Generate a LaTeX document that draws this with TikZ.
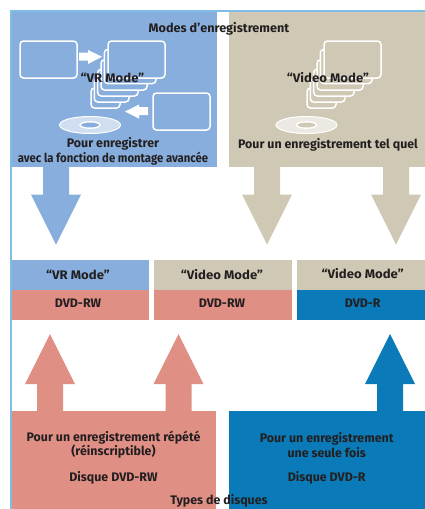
\documentclass[tikz,border=0pt]{standalone}
\usepackage{graphicx}
\usepackage{fontspec}
\setmainfont{Fira Sans}
\definecolor{modeblue}{HTML}{87AEDC}
\definecolor{edgeblue}{HTML}{7FBDE6}
\definecolor{khaki}{HTML}{CEC8B4}
\definecolor{pinkred}{HTML}{E08F85}
\definecolor{deepblue}{HTML}{0A7AB8}
\definecolor{inkdark}{HTML}{231F20}
\tikzset{
  lab/.style={text=inkdark,font=\fontsize{12.4}{14.2}\selectfont\bfseries,inner sep=0pt,align=center,anchor=center},
  frame/.style={draw=white,line width=1.5pt,rounded corners=3.5pt},
}
\newcommand{\modetext}[1]{\scalebox{1.06}[1]{#1}}
% #1 colour, #2 tip x
\newcommand{\downarrowshape}[2]{\fill[#1] (#2-13,167) -- (#2+13,167) -- (#2+13,194.5) -- (#2+25,194.5) -- (#2,244.5) -- (#2-25,194.5) -- (#2-13,194.5) -- cycle;}
\newcommand{\uparrowshape}[2]{\fill[#1] (#2-13,412) -- (#2+13,412) -- (#2+13,384) -- (#2+25,384) -- (#2,334) -- (#2-25,384) -- (#2-13,384) -- cycle;}
% #1 x offset, #2 fill
\newcommand{\stackshape}[2]{
  \foreach \l/\r/\t/\b in {91/120/88/108, 94.3/129/78.6/102, 97.7/138/69.2/96, 101/147/59.8/90, 104.3/156/49.4/83.5, 108/165/41/78}{
    \draw[frame,fill=#2] (#1+\l,\t) rectangle (#1+\r,\b);
  }
}
\newcommand{\discshape}[2]{
  \draw[draw=white,line width=1pt,fill=#2!40!white] (#1,125) ellipse [x radius=30.5,y radius=8.5];
  \draw[draw=white,line width=1.4pt,fill=#2] (#1,125) ellipse [x radius=10,y radius=3.2];
}
\begin{document}
\begin{tikzpicture}[x=1pt,y=-1pt]
\useasboundingbox (0,0) rectangle (425,509);
\fill[white] (0,0) rectangle (425,509);
% frame
\fill[edgeblue] (10,10) rectangle (425,12);
\fill[edgeblue] (10,10) rectangle (12,509);
% top panels
\fill[modeblue] (12,12) rectangle (217,167);
\fill[khaki] (229,12) rectangle (425,167);
\downarrowshape{modeblue}{56}
\downarrowshape{khaki}{267}
\downarrowshape{khaki}{396}
% VR panel drawing
\draw[frame] (20,41) rectangle (77,78);
\stackshape{0}{modeblue}
\draw[frame] (153,93) rectangle (210,130);
\fill[white] (79,52.7) -- (88,52.7) -- (88,50) -- (102,56.7) -- (88,64) -- (88,60.7) -- (79,60.7) -- cycle;
\fill[white] (148,107) -- (139,107) -- (139,104.5) -- (125,111.5) -- (139,118.5) -- (139,115) -- (148,115) -- cycle;
\discshape{90}{modeblue}
% Video panel drawing
\stackshape{216}{khaki}
\discshape{306.5}{khaki}
% Middle table
\fill[modeblue] (12,260) rectangle (149,290);
\fill[pinkred] (12,290) rectangle (149,320);
\fill[khaki] (154,260) rectangle (292,290);
\fill[pinkred] (154,290) rectangle (292,320);
\fill[khaki] (297,260) rectangle (425,290);
\fill[deepblue] (297,290) rectangle (425,320);
% bottom panels
\uparrowshape{pinkred}{50}
\uparrowshape{pinkred}{178.5}
\uparrowshape{deepblue}{390}
\fill[pinkred] (12,411) rectangle (216,509);
\fill[deepblue] (229,411) rectangle (425,509);
% texts
\node[lab] (title) at (219,29) {\scalebox{1.02}[1]{Modes d'enregistrement}};
\node[lab] (vrmode) at (112.5,78) {\modetext{“VR Mode”}};
\node[lab] (vrcap) at (113,144) {Pour enregistrer};
\node[lab] (vrcaptwo) at (113,159) {\scalebox{0.915}[1]{avec la fonction de montage avancée}};
\node[lab] (videomode) at (328,78) {\modetext{“Video Mode”}};
\node[lab] (videocap) at (328,144.5) {Pour un enregistrement tel quel};
\node[lab] (a1) at (78,274.5) {\modetext{“VR Mode”}};
\node[lab] (b1) at (78,302.7) {DVD-RW};
\node[lab] (a2) at (222,274.5) {\modetext{“Video Mode”}};
\node[lab] (b2) at (222,302.7) {DVD-RW};
\node[lab] (a3) at (362.7,273.5) {\modetext{“Video Mode”}};
\node[lab] (b3) at (362.7,302.7) {DVD-R};
\node[lab] (rwuse) at (113.5,445) {Pour un enregistrement répété\\(réinscriptible)};
\node[lab] (rwdisc) at (113.5,477.5) {Disque DVD-RW};
\node[lab] (ruse) at (326.7,445) {Pour un enregistrement\\une seule fois};
\node[lab] (rdisc) at (326.7,477.5) {Disque DVD-R};
\node[lab] (types) at (219,501) {Types de disques};
\end{tikzpicture}
\end{document}
